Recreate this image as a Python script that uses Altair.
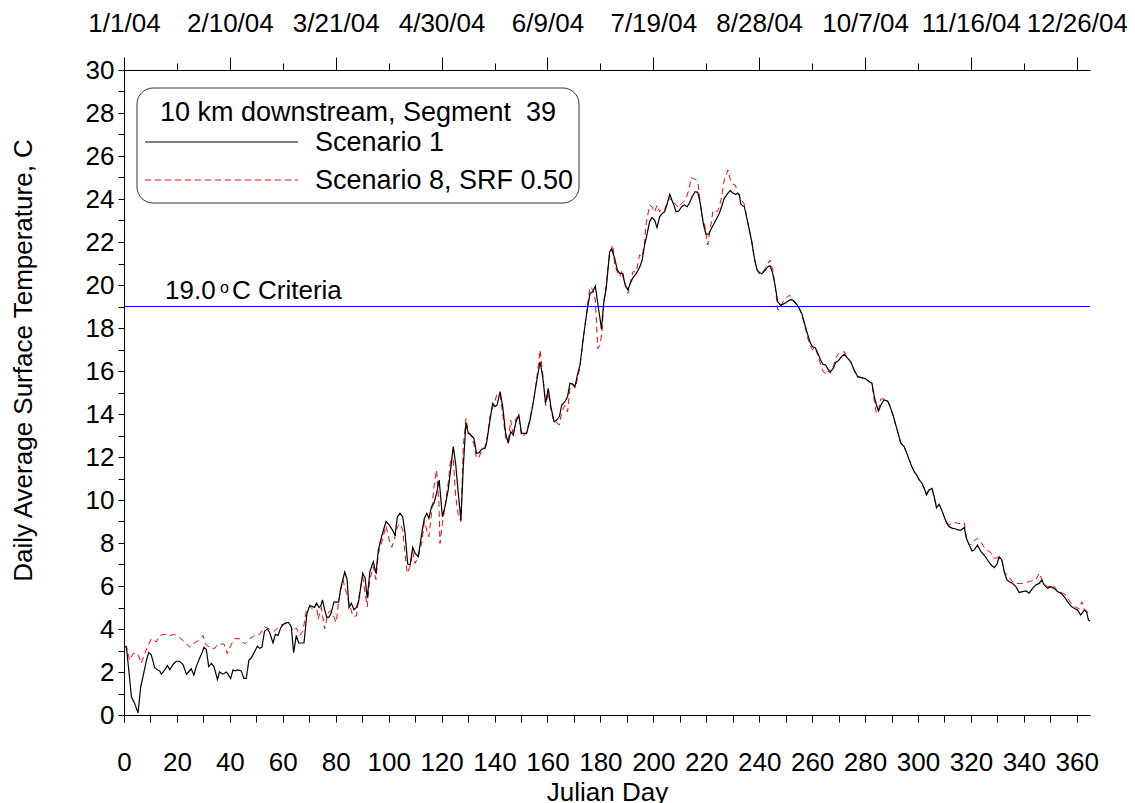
import json
import altair as alt
import pandas as pd

# ---------------- data ----------------
S1_DAYS = [0.0, 0.9, 1.8, 2.8, 4.0, 5.3, 6.3, 7.2, 8.4, 9.3, 10.3, 11.6, 12.6, 13.5, 14.1, 15.4, 16.4, 17.3, 18.5, 19.8,
           21.0, 22.3, 23.6, 24.4, 25.4, 26.4, 27.3, 28.6, 29.5, 30.2, 31.1, 32.0, 33.0, 34.0, 35.3, 36.1, 37.4, 38.7, 39.3,
           40.3, 41.2, 42.0, 43.0, 44.3, 45.3, 46.2, 47.2, 48.1, 49.1, 50.4, 51.3, 52.1, 53.1, 54.2, 55.0, 56.3, 57.2, 58.2,
           59.2, 60.1, 61.3, 62.2, 63.2, 64.1, 65.1, 66.0, 67.0, 68.0, 69.1, 70.2, 71.0, 72.0, 72.8, 73.7, 74.3, 75.0, 75.8,
           76.6, 77.5, 78.3, 79.3, 80.2, 81.1, 81.9, 83.4, 84.3, 85.0, 85.9, 86.9, 87.8, 88.7, 89.5, 90.2, 91.1, 91.9, 92.9,
           94.2, 95.2, 96.1, 97.3, 99.0, 100.2, 101.8, 102.4, 103.3, 104.3, 105.3, 106.2, 107.2, 108.1, 109.1, 110.0, 111.2,
           112.5, 113.5, 114.4, 115.2, 116.2, 117.1, 118.1, 119.1, 120.3, 121.3, 122.5, 123.4, 124.4, 125.3, 126.3, 127.3,
           128.2, 129.2, 130.1, 131.1, 132.2, 133.2, 134.2, 135.1, 136.4, 137.0, 138.3, 139.3, 140.2, 141.0, 142.1, 143.1,
           144.2, 145.2, 146.1, 147.1, 148.1, 149.2, 150.2, 152.1, 153.4, 154.7, 155.9, 157.2, 158.2, 159.3, 160.3, 161.3,
           162.5, 163.5, 164.5, 165.4, 166.6, 167.6, 168.5, 169.5, 170.4, 171.3, 172.3, 173.3, 174.2, 175.2, 176.1, 177.1,
           178.1, 179.0, 179.8, 180.4, 181.3, 182.2, 183.5, 184.3, 185.4, 186.4, 187.3, 188.3, 189.4, 190.4, 191.3, 192.3,
           193.6, 194.8, 195.8, 196.7, 197.7, 198.6, 199.5, 200.5, 201.4, 202.4, 203.4, 204.3, 205.3, 206.2, 207.0, 207.8,
           208.6, 209.6, 210.7, 211.8, 212.8, 213.6, 214.7, 215.8, 216.8, 217.6, 218.4, 219.0, 219.9, 220.9, 222.0, 223.0,
           224.1, 224.9, 225.8, 226.8, 228.1, 229.1, 229.9, 231.0, 231.9, 232.5, 233.1, 234.4, 235.4, 236.3, 237.2, 238.2,
           239.2, 240.1, 241.1, 242.0, 243.3, 244.1, 245.1, 246.0, 247.0, 248.0, 248.9, 250.2, 251.5, 252.3, 253.4, 254.4,
           255.2, 256.1, 257.1, 258.2, 259.2, 260.1, 261.2, 262.2, 263.2, 264.1, 265.1, 266.0, 266.9, 268.0, 268.9, 269.9,
           271.1, 272.1, 273.4, 274.6, 275.9, 277.2, 278.4, 280.3, 281.6, 282.6, 283.5, 284.3, 285.1, 286.0, 287.2, 288.5,
           289.5, 290.6, 291.6, 292.7, 293.5, 294.8, 295.8, 296.7, 297.7, 298.6, 299.5, 300.5, 301.5, 302.4, 303.2, 304.2,
           305.3, 306.1, 307.0, 308.0, 309.0, 309.9, 310.9, 311.8, 313.1, 314.3, 315.3, 316.2, 317.5, 318.3, 319.4, 320.4,
           321.2, 322.5, 323.8, 325.0, 326.3, 327.5, 328.8, 329.8, 330.7, 331.7, 332.6, 333.6, 334.5, 335.7, 337.0, 338.2,
           339.5, 340.8, 342.0, 343.3, 344.5, 345.8, 346.8, 347.7, 349.0, 350.2, 351.5, 352.7, 354.0, 355.3, 356.5, 357.8,
           359.0, 360.3, 361.5, 362.8, 363.7, 364.4, 365.0]
S1_TEMP = [3.2, 3.15, 2.1, 0.85, 0.54, 0.1, 1.3, 1.8, 2.5, 2.9, 2.8, 2.2, 2.1, 2.05, 1.9, 2.1, 2.3, 2.1, 2.35, 2.5,
           2.5, 2.35, 1.9, 2.0, 2.15, 1.85, 2.25, 2.65, 2.9, 3.15, 3.05, 2.25, 2.4, 2.25, 1.65, 2.0, 1.9, 2.0, 1.9,
           1.7, 2.1, 2.05, 2.1, 2.05, 1.7, 1.7, 2.55, 2.65, 2.9, 3.2, 3.1, 3.15, 3.9, 4.0, 3.85, 3.35, 3.75, 3.7,
           4.05, 4.2, 4.3, 4.3, 4.1, 2.9, 3.7, 3.35, 3.35, 3.35, 4.7, 5.1, 5.05, 5.0, 5.2, 5.0, 5.05, 5.35, 4.9,
           4.55, 4.55, 4.75, 5.25, 5.25, 5.25, 5.9, 6.65, 6.3, 5.0, 5.2, 4.9, 5.0, 5.3, 6.0, 6.59, 6.36, 5.43, 6.67,
           7.13, 6.59, 7.67, 8.29, 8.99, 8.84, 8.53, 8.33, 9.22, 9.38, 9.22, 8.45, 7.02, 6.98, 7.8, 7.52, 7.36,
           8.45, 9.15, 9.38, 9.15, 9.69, 9.84, 10.31, 10.93, 9.22, 9.69, 10.47, 11.4, 12.48, 11.71, 10.31, 9.07,
           11.55, 13.57, 13.1, 13.02, 12.87, 12.17, 12.2, 12.36, 12.4, 12.64, 13.72, 14.5, 14.34, 14.42, 15.04, 14.34,
           13.1, 12.64, 13.18, 13.02, 13.64, 13.95, 13.1, 13.1, 13.72, 14.57, 15.5, 16.43, 15.74, 14.5, 15.19, 14.34,
           13.64, 13.72, 13.88, 14.42, 14.57, 14.81, 15.43, 15.39, 15.27, 15.81, 16.28, 17.29, 18.14, 18.99, 19.61, 19.69,
           19.95, 19.15, 18.5, 17.95, 19.22, 19.84, 21.55, 21.67, 21.24, 20.7, 20.54, 20.54, 20.0, 19.77, 20.08, 20.34,
           20.54, 20.81, 21.16, 21.86, 22.4, 22.95, 23.13, 23.02, 22.67, 23.18, 23.33, 23.41, 23.8, 24.22, 23.95, 23.72,
           23.41, 23.44, 23.64, 23.72, 23.64, 23.8, 24.11, 24.34, 24.31, 23.88, 23.26, 22.79, 22.36, 22.36, 22.64, 22.87,
           23.13, 23.33, 23.64, 24.03, 24.26, 24.39, 24.29, 24.22, 24.26, 24.19, 23.75, 23.64, 23.07, 22.56, 22.02, 21.24,
           20.7, 20.57, 20.53, 20.65, 20.85, 20.9, 20.54, 20.0, 19.22, 19.07, 19.1, 19.19, 19.3, 19.32, 19.22, 19.07,
           18.91, 18.68, 18.22, 17.75, 17.36, 17.13, 17.08, 16.82, 16.51, 16.31, 16.28, 16.09, 15.97, 16.12, 16.4, 16.47,
           16.67, 16.78, 16.6, 16.43, 16.05, 15.74, 15.7, 15.63, 15.5, 15.43, 14.81, 14.42, 14.14, 14.42, 14.65, 14.6,
           14.34, 13.95, 13.49, 13.02, 12.64, 12.48, 12.17, 11.86, 11.55, 11.32, 11.16, 10.93, 10.78, 10.54, 10.23, 10.47,
           10.54, 10.16, 9.64, 9.8, 9.53, 9.22, 8.91, 8.76, 8.68, 8.65, 8.6, 8.6, 8.72, 8.22, 7.9, 7.63,
           7.67, 7.9, 7.6, 7.44, 7.21, 7.0, 6.85, 7.0, 7.36, 7.21, 6.67, 6.28, 6.2, 6.12, 5.97, 5.7,
           5.74, 5.77, 5.67, 5.89, 6.05, 6.12, 6.28, 6.05, 5.89, 5.97, 5.89, 5.74, 5.67, 5.5, 5.27, 5.07,
           4.96, 4.88, 4.65, 4.88, 4.8, 4.42, 4.37]

S8_DAYS = [0.0, 0.9, 2.1, 3.4, 4.7, 5.5, 6.5, 7.8, 9.0, 10.3, 12.2, 13.5, 15.4, 17.3, 19.1, 21.0, 22.9, 24.8, 26.1, 27.9,
           29.8, 31.1, 33.0, 34.3, 35.5, 37.8, 39.0, 40.6, 41.8, 43.7, 45.6, 47.5, 49.4, 51.3, 53.1, 55.0, 56.9, 58.8, 60.7,
           62.6, 63.9, 65.1, 66.4, 67.6, 68.9, 70.2, 71.4, 72.7, 73.3, 74.6, 75.8, 77.1, 78.3, 80.2, 81.1, 82.7, 84.0, 85.3,
           86.5, 87.8, 88.7, 89.5, 90.2, 91.9, 92.9, 94.2, 95.2, 96.1, 97.3, 99.0, 100.2, 101.2, 102.4, 103.3, 104.3, 105.3,
           106.2, 107.0, 108.1, 109.1, 110.0, 111.2, 112.5, 113.5, 114.4, 115.2, 116.2, 117.1, 118.1, 119.0, 119.4, 120.3,
           121.3, 122.5, 123.4, 124.4, 125.3, 126.3, 127.3, 128.2, 129.2, 130.1, 131.1, 132.2, 133.2, 134.2, 135.1, 136.4,
           137.3, 138.3, 139.3, 140.2, 141.0, 142.1, 143.1, 144.2, 145.2, 146.1, 147.1, 148.1, 149.2, 150.2, 152.1, 153.4,
           154.7, 155.9, 157.2, 158.2, 159.3, 160.3, 161.3, 162.5, 163.5, 164.5, 165.4, 166.6, 167.6, 168.5, 169.5, 170.4,
           171.3, 172.3, 173.3, 174.2, 175.2, 176.1, 177.1, 178.1, 179.0, 179.8, 180.6, 181.3, 182.2, 183.5, 184.7, 185.4,
           186.4, 187.3, 188.3, 189.4, 190.4, 191.3, 192.3, 193.6, 194.8, 195.8, 196.7, 197.3, 198.6, 199.5, 200.5, 201.4,
           202.4, 203.4, 204.3, 205.3, 206.2, 207.0, 208.0, 209.6, 210.7, 211.8, 212.4, 213.6, 214.3, 215.8, 216.8, 217.6,
           218.4, 219.4, 220.6, 221.5, 222.5, 223.5, 224.1, 224.9, 225.8, 226.8, 228.2, 229.1, 229.9, 231.0, 231.9, 233.1,
           234.4, 235.4, 236.3, 237.2, 238.2, 239.2, 240.1, 241.1, 242.0, 243.3, 244.1, 245.1, 246.0, 247.0, 248.0, 248.9,
           250.2, 251.5, 252.3, 253.4, 254.4, 255.2, 256.1, 257.1, 258.2, 259.2, 260.1, 261.2, 262.2, 263.2, 264.1, 265.1,
           266.0, 266.9, 268.0, 268.9, 269.9, 271.1, 272.1, 273.4, 274.6, 275.9, 277.2, 278.4, 280.3, 281.6, 282.6, 283.5,
           284.3, 285.1, 286.0, 287.2, 288.5, 289.5, 290.6, 291.6, 292.7, 293.5, 294.8, 295.8, 296.7, 297.7, 298.6, 299.5,
           300.5, 301.5, 302.4, 303.2, 304.2, 305.3, 306.1, 307.0, 308.0, 309.0, 309.9, 310.9, 311.8, 313.1, 314.3, 315.3,
           316.2, 317.5, 318.3, 319.4, 320.4, 321.2, 322.5, 323.8, 325.0, 326.3, 327.5, 328.8, 329.8, 330.7, 331.7, 332.6,
           333.6, 334.5, 335.7, 337.0, 338.2, 339.5, 340.8, 342.0, 343.3, 344.5, 345.8, 346.8, 347.7, 349.0, 350.9, 352.7,
           354.0, 355.9, 357.8, 358.4, 359.6, 361.0, 361.9, 362.8, 364.4, 365.0]
S8_TEMP = [3.2, 3.2, 2.55, 2.85, 2.9, 2.75, 2.4, 2.85, 3.2, 3.55, 3.4, 3.7, 3.75, 3.7, 3.75, 3.6, 3.4, 3.15, 3.3, 3.45,
           3.7, 3.25, 3.1, 3.1, 3.3, 3.3, 2.85, 3.3, 3.55, 3.55, 3.3, 3.55, 3.7, 3.75, 4.1, 4.0, 3.9, 4.15, 4.25,
           4.25, 3.9, 4.05, 3.7, 3.9, 4.85, 5.05, 4.9, 5.2, 4.45, 5.0, 4.0, 4.75, 4.85, 4.3, 5.3, 6.3, 5.7, 5.1,
           4.6, 4.6, 5.45, 6.0, 6.4, 5.04, 6.3, 6.9, 6.3, 7.5, 8.0, 8.8, 8.14, 7.8, 8.3, 8.76, 8.91, 8.6,
           7.5, 6.59, 6.9, 7.6, 7.05, 7.4, 8.0, 9.0, 8.6, 8.29, 9.4, 10.6, 11.4, 9.8, 7.98, 8.91,
           9.7, 10.8, 11.86, 11.9, 10.2, 9.3, 9.0, 12.5, 13.8, 13.2, 13.0, 12.6, 11.94, 12.0, 12.3, 12.5,
           13.0, 13.9, 14.3, 14.6, 14.96, 14.9, 14.0, 12.9, 12.7, 13.72, 13.0, 13.8, 13.9, 12.95, 13.1, 13.8,
           14.6, 15.6, 16.98, 15.9, 14.4, 15.0, 14.2, 13.6, 13.6, 13.49, 14.1, 14.4, 14.1, 15.2, 15.4, 15.2,
           15.6, 16.2, 17.3, 18.1, 19.1, 19.92, 19.8, 19.3, 17.05, 17.2, 17.8, 19.22, 20.0, 21.5, 21.86, 20.93,
           20.6, 20.39, 20.7, 20.0, 19.61, 20.1, 20.62, 20.6, 21.4, 21.3, 22.0, 22.87, 23.72, 23.64, 23.4, 23.72,
           23.4, 23.57, 23.5, 23.9, 24.03, 23.9, 23.8, 23.6, 23.8, 23.9, 24.03, 24.5, 24.99, 24.91, 24.8, 24.0,
           23.2, 22.79, 21.86, 22.6, 23.41, 23.49, 23.4, 23.6, 24.1, 24.88, 25.35, 24.9, 24.7, 24.65, 24.3, 24.0,
           23.75, 23.1, 22.5, 22.0, 21.2, 20.7, 20.5, 20.6, 20.7, 21.0, 21.16, 20.7, 20.0, 18.84, 18.9, 19.2,
           19.4, 19.53, 19.4, 19.2, 19.0, 18.9, 18.6, 18.2, 17.6, 17.2, 17.0, 17.1, 16.7, 16.3, 16.0, 15.85,
           16.0, 15.9, 16.2, 16.6, 16.8, 16.85, 16.9, 16.6, 16.43, 16.0, 15.7, 15.7, 15.63, 15.5, 15.43, 14.6,
           14.03, 14.2, 14.7, 14.7, 14.65, 14.34, 13.9, 13.49, 13.02, 12.64, 12.48, 12.17, 11.86, 11.55, 11.32, 11.16,
           10.9, 10.78, 10.5, 10.3, 10.5, 10.54, 10.16, 9.7, 9.8, 9.53, 9.22, 8.95, 8.85, 8.91, 8.95, 8.9,
           8.91, 8.95, 8.2, 7.9, 7.95, 8.1, 8.22, 8.05, 7.8, 7.65, 7.55, 7.3, 7.3, 7.36, 7.2, 6.67,
           6.5, 6.4, 6.2, 6.12, 6.12, 6.12, 6.15, 6.2, 6.25, 6.28, 6.6, 6.3, 6.12, 5.95, 6.05, 5.8,
           5.7, 5.58, 5.2, 5.12, 5.0, 4.95, 5.27, 4.96, 4.73, 4.8]

CRITERIA = 19.0
BOTTOM_TICKS = list(range(0, 361, 10))
Y_TICKS = list(range(0, 31, 1))
TOP_MAJOR = list(range(0, 361, 40))
TOP_MINOR = list(range(20, 361, 40))
TOP_LABELS = ["1/1/04", "2/10/04", "3/21/04", "4/30/04", "6/9/04", "7/19/04",
              "8/28/04", "10/7/04", "11/16/04", "12/26/04"]
LEGEND_TITLE = "10 km downstream, Segment \u00a039"
SERIES_NAMES = ["Scenario 1", "Scenario 8, SRF 0.50"]

# ---------------- chart ----------------
FONT = "Liberation Sans"
FS = 26
W, H = 966, 645

xscale = alt.Scale(domain=[0, 365], nice=False, zero=False)
yscale = alt.Scale(domain=[0, 30], nice=False, zero=False)

df1 = pd.DataFrame({"day": S1_DAYS, "temp": S1_TEMP})
df8 = pd.DataFrame({"day": S8_DAYS, "temp": S8_TEMP})

AX = dict(labelFont=FONT, labelFontSize=FS, titleFont=FONT, titleFontSize=FS, titleFontWeight="normal",
          labelColor="black", titleColor="black", domainColor="black", tickColor="black", grid=False)

bottom_axis = alt.Axis(values=BOTTOM_TICKS, labelExpr="datum.value % 20 == 0 ? datum.label : ''",
                       format="d", tickSize=7, labelPadding=27, title="Julian Day",
                       titleX=W / 2, titleY=85, titleBaseline="alphabetic", titleAlign="center",
                       labelOverlap=False, labelFlush=False, **AX)
left_axis = alt.Axis(values=Y_TICKS, labelExpr="datum.value % 2 == 0 ? datum.label : ''",
                     format="d", tickSize=6, labelPadding=4,
                     title="Daily Average Surface Temperature, C",
                     titleX=-93, titleY=290, titleAngle=270, titleBaseline="alphabetic",
                     titleAlign="center", labelOverlap=False, labelFlush=False, **AX)

line8 = alt.Chart(df8).mark_line(color="#ff0000", strokeWidth=1, strokeDash=[6, 4]).encode(
    x=alt.X("day:Q", scale=xscale, axis=None),
    y=alt.Y("temp:Q", scale=yscale, axis=None),
)
line1 = alt.Chart(df1).mark_line(color="#000000", strokeWidth=1.2).encode(
    x=alt.X("day:Q", scale=xscale, axis=bottom_axis),
    y=alt.Y("temp:Q", scale=yscale, axis=left_axis),
)

crit = alt.Chart(pd.DataFrame({"v": [CRITERIA]})).mark_rule(color="#0000ff", strokeWidth=1).encode(
    y=alt.Y("v:Q", scale=yscale, axis=None)
)

label_expr_top = json.dumps(TOP_LABELS) + "[round(datum.value / 40)]"
top_major = alt.Chart(pd.DataFrame({"d": TOP_MAJOR})).mark_point(opacity=0).encode(
    x=alt.X("d:Q", scale=xscale,
            axis=alt.Axis(orient="top", values=TOP_MAJOR, labelExpr=label_expr_top, tickSize=13,
                          labelPadding=21, title=None, labelOverlap=False, labelFlush=False, **AX)),
    y=alt.value(0),
)
top_minor = alt.Chart(pd.DataFrame({"d": TOP_MINOR})).mark_point(opacity=0).encode(
    x=alt.X("d:Q", scale=xscale,
            axis=alt.Axis(orient="top", values=TOP_MINOR, labels=False, tickSize=7, title=None,
                          domain=False, **AX)),
    y=alt.value(0),
)

one = pd.DataFrame({"a": [0]})
legend_box = alt.Chart(one).mark_rect(fill="white", stroke="#333333", strokeWidth=1, cornerRadius=16).encode(
    x=alt.value(13), x2=alt.value(455), y=alt.value(18), y2=alt.value(133)
)
legend_title = alt.Chart(one).mark_text(font=FONT, fontSize=27, align="center", baseline="alphabetic",
                                        color="black").encode(
    x=alt.value(234), y=alt.value(51), text=alt.value(LEGEND_TITLE)
)
leg_line1 = alt.Chart(one).mark_rule(color="black", strokeWidth=1).encode(
    x=alt.value(21), x2=alt.value(174), y=alt.value(72)
)
leg_line8 = alt.Chart(one).mark_rule(color="#ff0000", strokeWidth=1, strokeDash=[6, 4]).encode(
    x=alt.value(21), x2=alt.value(174), y=alt.value(110)
)
leg_text1 = alt.Chart(one).mark_text(font=FONT, fontSize=27, align="left", baseline="alphabetic",
                                     color="black").encode(
    x=alt.value(191), y=alt.value(81), text=alt.value(SERIES_NAMES[0])
)
leg_text8 = alt.Chart(one).mark_text(font=FONT, fontSize=27, align="left", baseline="alphabetic",
                                     color="black").encode(
    x=alt.value(191), y=alt.value(119), text=alt.value(SERIES_NAMES[1])
)

crit_t1 = alt.Chart(one).mark_text(font=FONT, fontSize=FS, align="left", baseline="alphabetic",
                                   color="black").encode(
    x=alt.value(41), y=alt.value(229), text=alt.value("19.0")
)
crit_t2 = alt.Chart(one).mark_text(font=FONT, fontSize=16, align="left", baseline="alphabetic",
                                   color="black").encode(
    x=alt.value(96), y=alt.value(223), text=alt.value("o")
)
crit_t3 = alt.Chart(one).mark_text(font=FONT, fontSize=FS, align="left", baseline="alphabetic",
                                   color="black").encode(
    x=alt.value(108), y=alt.value(229), text=alt.value("C Criteria")
)

chart = alt.layer(
    crit, line8, line1, top_major, top_minor,
    legend_box, legend_title, leg_line1, leg_line8, leg_text1, leg_text8,
    crit_t1, crit_t2, crit_t3,
).resolve_axis(x="independent", y="independent").properties(
    width=W, height=H,
    background="white",
    autosize=alt.AutoSizeParams(type="none"),
    padding={"left": 116, "top": 62, "right": 37, "bottom": 88},
).configure_view(stroke=None)

chart.save("out.html", embed_options={"renderer": "svg", "actions": False})
